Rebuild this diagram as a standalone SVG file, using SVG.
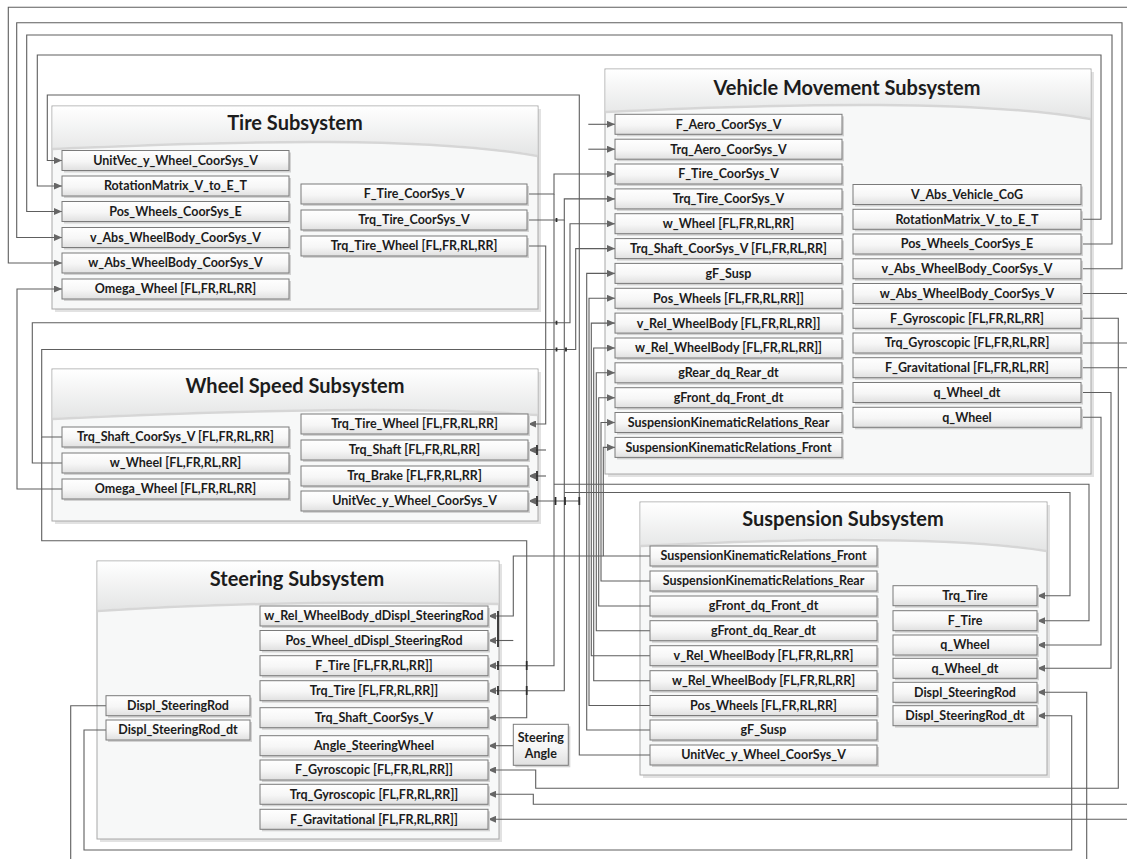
<svg xmlns="http://www.w3.org/2000/svg" width="1127" height="859" viewBox="0 0 1127 859">
<defs>
<linearGradient id="gb" x1="0" y1="0" x2="0" y2="1"><stop offset="0" stop-color="#ffffff"/><stop offset="0.55" stop-color="#f6f6f6"/><stop offset="1" stop-color="#e0e0e0"/></linearGradient>
<linearGradient id="gh" x1="0" y1="0" x2="0" y2="1"><stop offset="0" stop-color="#ffffff"/><stop offset="1" stop-color="#e4e5e5"/></linearGradient>
<marker id="ah" viewBox="0 0 8 7" refX="8" refY="3.5" markerWidth="8" markerHeight="7" orient="auto" markerUnits="userSpaceOnUse"><path d="M0,0 L8,3.5 L0,7 Z" fill="#666"/></marker>
<style>
.cs{fill:#e2e2e2}
.cb{fill:#f7f8f8;stroke:#a8a8a8;stroke-width:1}
.hd{fill:url(#gh)}
.hl{fill:none;stroke:#d6d6d6;stroke-width:2.5}
.bs{fill:#d2d2d2}
.bx{fill:url(#gb);stroke:#7b7b7b;stroke-width:1}
.t{font-family:Lato,"Liberation Sans",sans-serif;font-weight:700;font-size:12.5px;fill:#1c1c1c;text-anchor:middle}
.tt{font-family:Lato,"Liberation Sans",sans-serif;font-weight:700;font-size:20px;fill:#1c1c1c;text-anchor:middle}
.cn path{fill:none;stroke:#5e5e5e;stroke-width:1.1}
.cn path.a{marker-end:url(#ah)}
.cn path.tk{stroke:#2e2e2e;stroke-width:1.8}
</style>
</defs>
<rect width="1127" height="859" fill="#ffffff"/>

<!-- containers -->
<g id="tire_subsystem">
<rect class="cs" x="55" y="109" width="486" height="203"/>
<rect class="cb" x="52" y="106" width="486" height="203"/>
<path class="hd" d="M52.5,106.5 H537.5 V155 C430,136 250,139 52.5,148 Z"/>
<path class="hl" d="M537.5,156 C430,137 250,140 52.5,149"/>
<text class="tt" x="295" y="130">Tire Subsystem</text>
</g>
<g id="wheel_speed_subsystem">
<rect class="cs" x="55" y="372" width="486" height="152"/>
<rect class="cb" x="52" y="369" width="486" height="152"/>
<path class="hd" d="M52.5,369.5 H537.5 V414 C430,406 250,408 52.5,418 Z"/>
<path class="hl" d="M537.5,415 C430,407 250,409 52.5,419"/>
<text class="tt" x="295" y="393">Wheel Speed Subsystem</text>
</g>
<g id="vehicle_movement_subsystem">
<rect class="cs" x="608" y="72" width="486" height="405"/>
<rect class="cb" x="605" y="69" width="486" height="405"/>
<path class="hd" d="M605.5,69.5 H1090.5 V118 C980,99 800,102 605.5,111 Z"/>
<path class="hl" d="M1090.5,119 C980,100 800,103 605.5,112"/>
<text class="tt" x="847" y="95">Vehicle Movement Subsystem</text>
</g>
<g id="suspension_subsystem">
<rect class="cs" x="643" y="505" width="407" height="273"/>
<rect class="cb" x="640" y="502" width="407" height="273"/>
<path class="hd" d="M640.5,502.5 H1046.5 V550 C950,535 800,537 640.5,545 Z"/>
<path class="hl" d="M1046.5,551 C950,536 800,538 640.5,546"/>
<text class="tt" x="843" y="526">Suspension Subsystem</text>
</g>
<g id="steering_subsystem">
<rect class="cs" x="100" y="564" width="402" height="278"/>
<rect class="cb" x="97" y="561" width="402" height="278"/>
<path class="hd" d="M97.5,561.5 H498.5 V603 C400,601 250,600 97.5,610 Z"/>
<path class="hl" d="M498.5,604 C400,602 250,601 97.5,611"/>
<text class="tt" x="297" y="586">Steering Subsystem</text>
</g>

<!-- connectors -->
<g id="connectors" class="cn">
<path class="a" d="M650,755 H579.3 V95 H47.3 V160.5 H62"/>
<path class="a" d="M579.3,501 H528"/>
<path class="a" d="M1081,219.3 H1101 V55 H37.3 V186 H62"/>
<path class="a" d="M1081,244 H1112 V35 H26.7 V211.5 H62"/>
<path class="a" d="M1081,268.8 H1122 V22.7 H16.7 V237.5 H62"/>
<path d="M1081,293.5 H1127"/>
<path class="a" d="M1127,7.3 H8.3 V263 H62"/>
<path class="a" d="M62,489 H17 V289 H62"/>
<path class="a" d="M527,194 H554 V174 H615"/>
<path class="a" d="M554,194 V665.7 H488"/>
<path class="a" d="M554,484.3 H1089 V620.7 H1037"/>
<path class="a" d="M527,220 H564.3 V198.9 H615"/>
<path class="a" d="M564.3,220 V690.7 H488"/>
<path class="a" d="M564.3,492.5 H1070 V595.7 H1037"/>
<path class="a" d="M527,246 H545.7 V424 H528"/>
<path class="a" d="M62,437 H41.7 V349.5 H575.7 V248.6 H615"/>
<path class="a" d="M41.7,437 V540.7 H526.7 V717.7 H488"/>
<path class="a" d="M62,463 H32.3 V322.7 H570 V223.7 H615"/>
<path class="a" d="M546,450 H528"/>
<path class="a" d="M546,476 H528"/>
<path class="a" d="M588.3,124.3 H615"/>
<path class="a" d="M588.3,149.2 H615"/>
<path class="a" d="M650,730 H586.7 V273.4 H615"/>
<path class="a" d="M650,705.5 H589 V298.3 H615"/>
<path class="a" d="M650,655.7 H591.3 V323.1 H615"/>
<path class="a" d="M650,680.7 H593.7 V348 H615"/>
<path class="a" d="M650,630.7 H596.3 V372.8 H615"/>
<path class="a" d="M650,606 H598.7 V397.7 H615"/>
<path class="a" d="M650,581 H601 V422.5 H615"/>
<path class="a" d="M650,556 H603.3 V447.4 H615"/>
<path class="a" d="M603.3,556 H513.3 V616 H488"/>
<path class="a" d="M513.3,640.5 H488"/>
<path class="a" d="M513.3,745.7 H488"/>
<path class="a" d="M1081,318.3 H1118.3 V788.3 H535.7 V770 H488"/>
<path d="M1081,343 H1127"/>
<path class="a" d="M1127,804.3 H533.3 V794.3 H488"/>
<path d="M1081,367.7 H1127"/>
<path class="a" d="M1127,819.3 H488"/>
<path class="a" d="M1081,392.5 H1111 V668.3 H1037"/>
<path class="a" d="M1081,417.3 H1101 V645 H1037"/>
<path d="M106,705.7 H70.7 V859"/>
<path class="a" d="M1086.7,859 V692.3 H1037"/>
<path class="a" d="M106,730 H84 V850 H1071.7 V715.7 H1037"/>
<path class="tk" d="M556.5,218 v4 M556.5,320.7 v4 M556.5,347.5 v4 M566,347.5 v4 M537,445 v10 M537,471 v10 M537,496 v10 M555.5,497 v8 M565,497 v8 M579.3,497 v8 M498,611 V647 M498,661 v9 M498,686 v9 M526.7,661 v9 M526.7,686 v9"/>
</g>

<!-- Tire subsystem ports -->
<g id="tire_in_unitvec"><rect class="bs" x="64" y="152.5" width="227" height="20"/><rect class="bx" x="62" y="150.5" width="227" height="20"/><text class="t" x="175.5" y="164.9">UnitVec_y_Wheel_CoorSys_V</text></g>
<g id="tire_in_rotmat"><rect class="bs" x="64" y="178" width="227" height="20"/><rect class="bx" x="62" y="176" width="227" height="20"/><text class="t" x="175.5" y="190.4">RotationMatrix_V_to_E_T</text></g>
<g id="tire_in_poswheels"><rect class="bs" x="64" y="203.5" width="227" height="20"/><rect class="bx" x="62" y="201.5" width="227" height="20"/><text class="t" x="175.5" y="215.9">Pos_Wheels_CoorSys_E</text></g>
<g id="tire_in_vabs"><rect class="bs" x="64" y="229.5" width="227" height="20"/><rect class="bx" x="62" y="227.5" width="227" height="20"/><text class="t" x="175.5" y="241.9">v_Abs_WheelBody_CoorSys_V</text></g>
<g id="tire_in_wabs"><rect class="bs" x="64" y="255" width="227" height="20"/><rect class="bx" x="62" y="253" width="227" height="20"/><text class="t" x="175.5" y="267.4">w_Abs_WheelBody_CoorSys_V</text></g>
<g id="tire_in_omega"><rect class="bs" x="64" y="281" width="227" height="20"/><rect class="bx" x="62" y="279" width="227" height="20"/><text class="t" x="175.5" y="293.4">Omega_Wheel [FL,FR,RL,RR]</text></g>
<g id="tire_out_ftire"><rect class="bs" x="303" y="186" width="226" height="20"/><rect class="bx" x="301" y="184" width="226" height="20"/><text class="t" x="414" y="198.4">F_Tire_CoorSys_V</text></g>
<g id="tire_out_trqtire"><rect class="bs" x="303" y="212" width="226" height="20"/><rect class="bx" x="301" y="210" width="226" height="20"/><text class="t" x="414" y="224.4">Trq_Tire_CoorSys_V</text></g>
<g id="tire_out_trqwheel"><rect class="bs" x="303" y="238" width="226" height="20"/><rect class="bx" x="301" y="236" width="226" height="20"/><text class="t" x="414" y="250.4">Trq_Tire_Wheel [FL,FR,RL,RR]</text></g>

<!-- Wheel speed ports -->
<g id="ws_out_trqshaft"><rect class="bs" x="64" y="429" width="227" height="20"/><rect class="bx" x="62" y="427" width="227" height="20"/><text class="t" x="175.5" y="441.4">Trq_Shaft_CoorSys_V [FL,FR,RL,RR]</text></g>
<g id="ws_out_wwheel"><rect class="bs" x="64" y="455" width="227" height="20"/><rect class="bx" x="62" y="453" width="227" height="20"/><text class="t" x="175.5" y="467.4">w_Wheel [FL,FR,RL,RR]</text></g>
<g id="ws_out_omega"><rect class="bs" x="64" y="481" width="227" height="20"/><rect class="bx" x="62" y="479" width="227" height="20"/><text class="t" x="175.5" y="493.4">Omega_Wheel [FL,FR,RL,RR]</text></g>
<g id="ws_in_trqtirewheel"><rect class="bs" x="303" y="416" width="227" height="20"/><rect class="bx" x="301" y="414" width="227" height="20"/><text class="t" x="414.5" y="428.4">Trq_Tire_Wheel [FL,FR,RL,RR]</text></g>
<g id="ws_in_trqshaft"><rect class="bs" x="303" y="442" width="227" height="20"/><rect class="bx" x="301" y="440" width="227" height="20"/><text class="t" x="414.5" y="454.4">Trq_Shaft [FL,FR,RL,RR]</text></g>
<g id="ws_in_trqbrake"><rect class="bs" x="303" y="468" width="227" height="20"/><rect class="bx" x="301" y="466" width="227" height="20"/><text class="t" x="414.5" y="480.4">Trq_Brake [FL,FR,RL,RR]</text></g>
<g id="ws_in_unitvec"><rect class="bs" x="303" y="493" width="227" height="20"/><rect class="bx" x="301" y="491" width="227" height="20"/><text class="t" x="414.5" y="505.4">UnitVec_y_Wheel_CoorSys_V</text></g>

<!-- Vehicle movement ports -->
<g id="vm_in_faero"><rect class="bs" x="617" y="116.3" width="227" height="20"/><rect class="bx" x="615" y="114.3" width="227" height="20"/><text class="t" x="728.5" y="128.7">F_Aero_CoorSys_V</text></g>
<g id="vm_in_trqaero"><rect class="bs" x="617" y="141.2" width="227" height="20"/><rect class="bx" x="615" y="139.2" width="227" height="20"/><text class="t" x="728.5" y="153.6">Trq_Aero_CoorSys_V</text></g>
<g id="vm_in_ftire"><rect class="bs" x="617" y="166" width="227" height="20"/><rect class="bx" x="615" y="164" width="227" height="20"/><text class="t" x="728.5" y="178.4">F_Tire_CoorSys_V</text></g>
<g id="vm_in_trqtire"><rect class="bs" x="617" y="190.9" width="227" height="20"/><rect class="bx" x="615" y="188.9" width="227" height="20"/><text class="t" x="728.5" y="203.3">Trq_Tire_CoorSys_V</text></g>
<g id="vm_in_wwheel"><rect class="bs" x="617" y="215.7" width="227" height="20"/><rect class="bx" x="615" y="213.7" width="227" height="20"/><text class="t" x="728.5" y="228.1">w_Wheel [FL,FR,RL,RR]</text></g>
<g id="vm_in_trqshaft"><rect class="bs" x="617" y="240.6" width="227" height="20"/><rect class="bx" x="615" y="238.6" width="227" height="20"/><text class="t" x="728.5" y="253">Trq_Shaft_CoorSys_V [FL,FR,RL,RR]</text></g>
<g id="vm_in_gfsusp"><rect class="bs" x="617" y="265.4" width="227" height="20"/><rect class="bx" x="615" y="263.4" width="227" height="20"/><text class="t" x="728.5" y="277.8">gF_Susp</text></g>
<g id="vm_in_poswheels"><rect class="bs" x="617" y="290.3" width="227" height="20"/><rect class="bx" x="615" y="288.3" width="227" height="20"/><text class="t" x="728.5" y="302.7">Pos_Wheels [FL,FR,RL,RR]]</text></g>
<g id="vm_in_vrel"><rect class="bs" x="617" y="315.1" width="227" height="20"/><rect class="bx" x="615" y="313.1" width="227" height="20"/><text class="t" x="728.5" y="327.5">v_Rel_WheelBody [FL,FR,RL,RR]]</text></g>
<g id="vm_in_wrel"><rect class="bs" x="617" y="340" width="227" height="20"/><rect class="bx" x="615" y="338" width="227" height="20"/><text class="t" x="728.5" y="352.4">w_Rel_WheelBody [FL,FR,RL,RR]]</text></g>
<g id="vm_in_grear"><rect class="bs" x="617" y="364.8" width="227" height="20"/><rect class="bx" x="615" y="362.8" width="227" height="20"/><text class="t" x="728.5" y="377.2">gRear_dq_Rear_dt</text></g>
<g id="vm_in_gfront"><rect class="bs" x="617" y="389.7" width="227" height="20"/><rect class="bx" x="615" y="387.7" width="227" height="20"/><text class="t" x="728.5" y="402.1">gFront_dq_Front_dt</text></g>
<g id="vm_in_skrrear"><rect class="bs" x="617" y="414.5" width="227" height="20"/><rect class="bx" x="615" y="412.5" width="227" height="20"/><text class="t" x="728.5" y="426.9">SuspensionKinematicRelations_Rear</text></g>
<g id="vm_in_skrfront"><rect class="bs" x="617" y="439.4" width="227" height="20"/><rect class="bx" x="615" y="437.4" width="227" height="20"/><text class="t" x="728.5" y="451.8">SuspensionKinematicRelations_Front</text></g>
<g id="vm_out_vabscog"><rect class="bs" x="855" y="186.5" width="228" height="20"/><rect class="bx" x="853" y="184.5" width="228" height="20"/><text class="t" x="967" y="198.9">V_Abs_Vehicle_CoG</text></g>
<g id="vm_out_rotmat"><rect class="bs" x="855" y="211.3" width="228" height="20"/><rect class="bx" x="853" y="209.3" width="228" height="20"/><text class="t" x="967" y="223.7">RotationMatrix_V_to_E_T</text></g>
<g id="vm_out_poswheels"><rect class="bs" x="855" y="236" width="228" height="20"/><rect class="bx" x="853" y="234" width="228" height="20"/><text class="t" x="967" y="248.4">Pos_Wheels_CoorSys_E</text></g>
<g id="vm_out_vabs"><rect class="bs" x="855" y="260.8" width="228" height="20"/><rect class="bx" x="853" y="258.8" width="228" height="20"/><text class="t" x="967" y="273.2">v_Abs_WheelBody_CoorSys_V</text></g>
<g id="vm_out_wabs"><rect class="bs" x="855" y="285.5" width="228" height="20"/><rect class="bx" x="853" y="283.5" width="228" height="20"/><text class="t" x="967" y="297.9">w_Abs_WheelBody_CoorSys_V</text></g>
<g id="vm_out_fgyro"><rect class="bs" x="855" y="310.3" width="228" height="20"/><rect class="bx" x="853" y="308.3" width="228" height="20"/><text class="t" x="967" y="322.7">F_Gyroscopic [FL,FR,RL,RR]</text></g>
<g id="vm_out_trqgyro"><rect class="bs" x="855" y="335" width="228" height="20"/><rect class="bx" x="853" y="333" width="228" height="20"/><text class="t" x="967" y="347.4">Trq_Gyroscopic [FL,FR,RL,RR]</text></g>
<g id="vm_out_fgrav"><rect class="bs" x="855" y="359.7" width="228" height="20"/><rect class="bx" x="853" y="357.7" width="228" height="20"/><text class="t" x="967" y="372.1">F_Gravitational [FL,FR,RL,RR]</text></g>
<g id="vm_out_qwheeldt"><rect class="bs" x="855" y="384.5" width="228" height="20"/><rect class="bx" x="853" y="382.5" width="228" height="20"/><text class="t" x="967" y="396.9">q_Wheel_dt</text></g>
<g id="vm_out_qwheel"><rect class="bs" x="855" y="409.3" width="228" height="20"/><rect class="bx" x="853" y="407.3" width="228" height="20"/><text class="t" x="967" y="421.7">q_Wheel</text></g>

<!-- Suspension ports -->
<g id="su_out_skrfront"><rect class="bs" x="652" y="548" width="227" height="20"/><rect class="bx" x="650" y="546" width="227" height="20"/><text class="t" x="763.5" y="560.4">SuspensionKinematicRelations_Front</text></g>
<g id="su_out_skrrear"><rect class="bs" x="652" y="573" width="227" height="20"/><rect class="bx" x="650" y="571" width="227" height="20"/><text class="t" x="763.5" y="585.4">SuspensionKinematicRelations_Rear</text></g>
<g id="su_out_gfrontfront"><rect class="bs" x="652" y="598" width="227" height="20"/><rect class="bx" x="650" y="596" width="227" height="20"/><text class="t" x="763.5" y="610.4">gFront_dq_Front_dt</text></g>
<g id="su_out_gfrontrear"><rect class="bs" x="652" y="622.7" width="227" height="20"/><rect class="bx" x="650" y="620.7" width="227" height="20"/><text class="t" x="763.5" y="635.1">gFront_dq_Rear_dt</text></g>
<g id="su_out_vrel"><rect class="bs" x="652" y="647.7" width="227" height="20"/><rect class="bx" x="650" y="645.7" width="227" height="20"/><text class="t" x="763.5" y="660.1">v_Rel_WheelBody [FL,FR,RL,RR]</text></g>
<g id="su_out_wrel"><rect class="bs" x="652" y="672.7" width="227" height="20"/><rect class="bx" x="650" y="670.7" width="227" height="20"/><text class="t" x="763.5" y="685.1">w_Rel_WheelBody [FL,FR,RL,RR]</text></g>
<g id="su_out_poswheels"><rect class="bs" x="652" y="697.5" width="227" height="20"/><rect class="bx" x="650" y="695.5" width="227" height="20"/><text class="t" x="763.5" y="709.9">Pos_Wheels [FL,FR,RL,RR]</text></g>
<g id="su_out_gfsusp"><rect class="bs" x="652" y="722" width="227" height="20"/><rect class="bx" x="650" y="720" width="227" height="20"/><text class="t" x="763.5" y="734.4">gF_Susp</text></g>
<g id="su_out_unitvec"><rect class="bs" x="652" y="747" width="227" height="20"/><rect class="bx" x="650" y="745" width="227" height="20"/><text class="t" x="763.5" y="759.4">UnitVec_y_Wheel_CoorSys_V</text></g>
<g id="su_in_trqtire"><rect class="bs" x="895" y="587.7" width="144" height="20"/><rect class="bx" x="893" y="585.7" width="144" height="20"/><text class="t" x="965" y="600.1">Trq_Tire</text></g>
<g id="su_in_ftire"><rect class="bs" x="895" y="612.7" width="144" height="20"/><rect class="bx" x="893" y="610.7" width="144" height="20"/><text class="t" x="965" y="625.1">F_Tire</text></g>
<g id="su_in_qwheel"><rect class="bs" x="895" y="637" width="144" height="20"/><rect class="bx" x="893" y="635" width="144" height="20"/><text class="t" x="965" y="649.4">q_Wheel</text></g>
<g id="su_in_qwheeldt"><rect class="bs" x="895" y="660.3" width="144" height="20"/><rect class="bx" x="893" y="658.3" width="144" height="20"/><text class="t" x="965" y="672.7">q_Wheel_dt</text></g>
<g id="su_in_displ"><rect class="bs" x="895" y="684.3" width="144" height="20"/><rect class="bx" x="893" y="682.3" width="144" height="20"/><text class="t" x="965" y="696.7">Displ_SteeringRod</text></g>
<g id="su_in_displdt"><rect class="bs" x="895" y="707.7" width="144" height="20"/><rect class="bx" x="893" y="705.7" width="144" height="20"/><text class="t" x="965" y="720.1">Displ_SteeringRod_dt</text></g>

<!-- Steering ports -->
<g id="st_out_displ"><rect class="bs" x="108" y="697.7" width="144" height="20"/><rect class="bx" x="106" y="695.7" width="144" height="20"/><text class="t" x="178" y="710.1">Displ_SteeringRod</text></g>
<g id="st_out_displdt"><rect class="bs" x="108" y="722" width="144" height="20"/><rect class="bx" x="106" y="720" width="144" height="20"/><text class="t" x="178" y="734.4">Displ_SteeringRod_dt</text></g>
<g id="st_in_wreldd"><rect class="bs" x="262" y="608" width="228" height="20"/><rect class="bx" x="260" y="606" width="228" height="20"/><text class="t" x="374" y="620.4">w_Rel_WheelBody_dDispl_SteeringRod</text></g>
<g id="st_in_posdd"><rect class="bs" x="262" y="632.5" width="228" height="20"/><rect class="bx" x="260" y="630.5" width="228" height="20"/><text class="t" x="374" y="644.9">Pos_Wheel_dDispl_SteeringRod</text></g>
<g id="st_in_ftire"><rect class="bs" x="262" y="657.7" width="228" height="20"/><rect class="bx" x="260" y="655.7" width="228" height="20"/><text class="t" x="374" y="670.1">F_Tire [FL,FR,RL,RR]]</text></g>
<g id="st_in_trqtire"><rect class="bs" x="262" y="682.7" width="228" height="20"/><rect class="bx" x="260" y="680.7" width="228" height="20"/><text class="t" x="374" y="695.1">Trq_Tire [FL,FR,RL,RR]]</text></g>
<g id="st_in_trqshaft"><rect class="bs" x="262" y="709.7" width="228" height="20"/><rect class="bx" x="260" y="707.7" width="228" height="20"/><text class="t" x="374" y="722.1">Trq_Shaft_CoorSys_V</text></g>
<g id="st_in_angle"><rect class="bs" x="262" y="737.7" width="228" height="20"/><rect class="bx" x="260" y="735.7" width="228" height="20"/><text class="t" x="374" y="750.1">Angle_SteeringWheel</text></g>
<g id="st_in_fgyro"><rect class="bs" x="262" y="762" width="228" height="20"/><rect class="bx" x="260" y="760" width="228" height="20"/><text class="t" x="374" y="774.4">F_Gyroscopic [FL,FR,RL,RR]]</text></g>
<g id="st_in_trqgyro"><rect class="bs" x="262" y="786.3" width="228" height="20"/><rect class="bx" x="260" y="784.3" width="228" height="20"/><text class="t" x="374" y="798.7">Trq_Gyroscopic [FL,FR,RL,RR]]</text></g>
<g id="st_in_fgrav"><rect class="bs" x="262" y="811.3" width="228" height="20"/><rect class="bx" x="260" y="809.3" width="228" height="20"/><text class="t" x="374" y="823.7">F_Gravitational [FL,FR,RL,RR]]</text></g>

<g id="steering_angle"><rect class="bs" x="515.3" y="726.3" width="55" height="41"/><rect class="bx" x="513.3" y="724.3" width="55" height="41"/><text class="t" x="540.8" y="741.5">Steering</text><text class="t" x="540.8" y="757.5">Angle</text></g>
</svg>
